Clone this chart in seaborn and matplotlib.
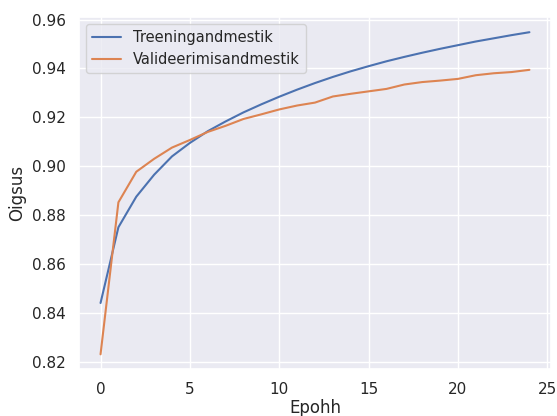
import matplotlib
matplotlib.use("Agg")
import matplotlib.pyplot as plt
import seaborn as sns
import pandas as pd

epochs = list(range(25))
train_acc = [0.844, 0.875, 0.8875, 0.8965, 0.904, 0.9095, 0.9143, 0.9183, 0.922, 0.9253,
             0.9284, 0.9313, 0.934, 0.9365, 0.9388, 0.9409, 0.9429, 0.9447, 0.9464, 0.948,
             0.9495, 0.951, 0.9523, 0.9536, 0.9548]
val_acc = [0.823, 0.8852, 0.8977, 0.903, 0.9076, 0.9107, 0.914, 0.9165, 0.9193, 0.9212,
           0.9232, 0.9248, 0.926, 0.9285, 0.9296, 0.9306, 0.9316, 0.9334, 0.9344, 0.935,
           0.9357, 0.9372, 0.938, 0.9385, 0.9394]
series_names = ["Treeningandmestik", "Valideerimisandmestik"]

sns.set_theme(style="darkgrid")

df = pd.DataFrame({"Epohh": epochs * 2,
                   "Oigsus": train_acc + val_acc,
                   "series": [series_names[0]] * 25 + [series_names[1]] * 25})

fig = plt.figure(figsize=(5.57, 4.16), dpi=100)
ax = fig.add_axes([0.142, 0.113, 0.847, 0.846])
sns.lineplot(data=df, x="Epohh", y="Oigsus", hue="series", ax=ax, linewidth=1.5)
ax.set_xlim(-1.2, 25.2)
ax.set_ylim(0.817, 0.961)
ax.set_xticks([0, 5, 10, 15, 20, 25])
ax.set_yticks([0.82, 0.84, 0.86, 0.88, 0.90, 0.92, 0.94, 0.96])
ax.set_yticklabels(["0.82", "0.84", "0.86", "0.88", "0.90", "0.92", "0.94", "0.96"])
ax.set_xlabel("Epohh", labelpad=1)
ax.legend(title=None, loc="upper left", fontsize=10.5)
fig.savefig("out.png", dpi=100)
